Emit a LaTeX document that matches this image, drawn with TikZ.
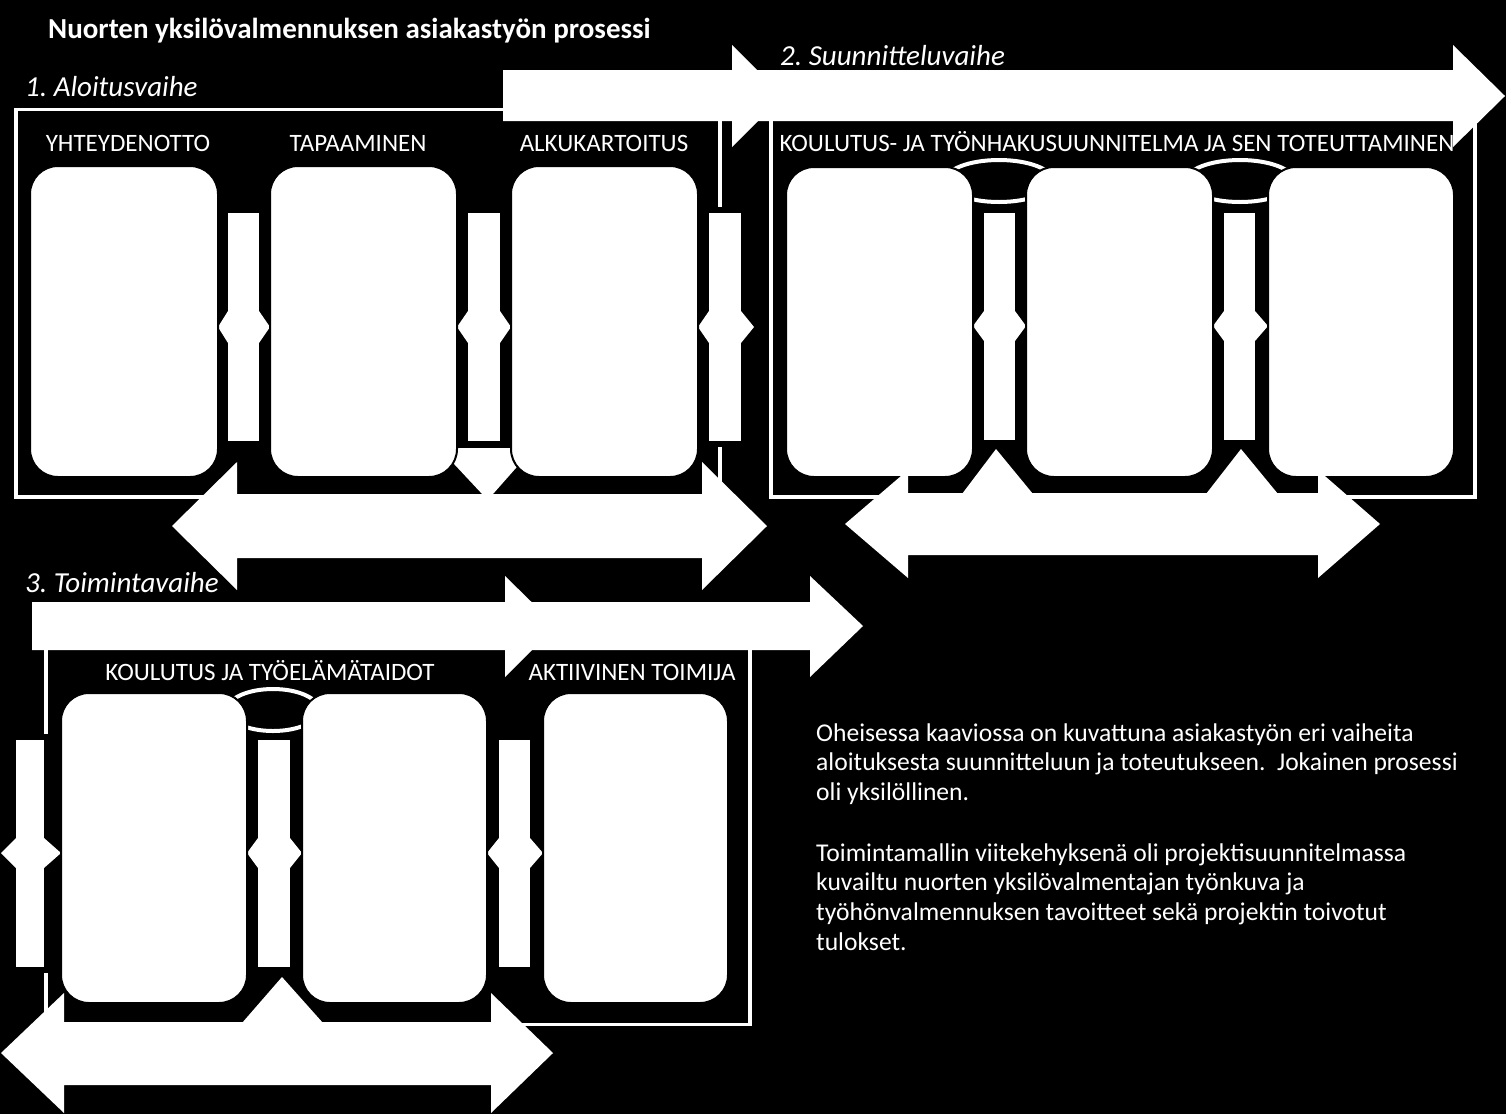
\documentclass[tikz,border=0pt]{standalone}
\usepackage{fontspec}
\setmainfont{Carlito}
\begin{document}
\frenchspacing
\begin{tikzpicture}[x=1pt,y=-1pt,
  frame/.style={draw=white, line width=3.5pt},
  wshape/.style={fill=white, draw=none},
  bar/.style={fill=white, draw=black, line width=6pt},
  ring/.style={draw=white, fill=black, line width=4pt},
  box/.style={fill=white, draw=black, line width=2pt, rounded corners=28pt, inner sep=0pt, outer sep=0pt},
  lbl/.style={text=white, inner sep=0pt, anchor=base, font=\fontsize{25}{28}\selectfont},
  phase/.style={text=white, inner sep=0pt, anchor=base west, font=\fontsize{29}{32}\selectfont\itshape},
  para/.style={text=white, inner sep=0pt, anchor=base west, font=\fontsize{25.6}{30}\selectfont}]
\useasboundingbox (0,0) rectangle (1506,1114);
\fill[black] (0,0) rectangle (1506,1114);

% ---------- title ----------
\node[text=white, inner sep=0pt, anchor=base west, font=\fontsize{29}{32}\selectfont\bfseries] (title) at (48,38) {Nuorten yksilövalmennuksen asiakastyön prosessi};

% ================= GROUP 1 =================
\draw[frame] (16,109.5) rectangle (720,497);
% down V behind middle connector
\fill[wshape] (426,434) -- (546,434) -- (487.7,500) -- cycle;
\fill[black] (457,420) rectangle (512,448);
% connector bars
\path[bar] (225,210) rectangle (262,444);
\path[bar] (465,210) rectangle (503,444);
\path[bar] (706,210) rectangle (744,444);
\fill[wshape] (218,327) -- (228,311) -- (259,311) -- (270,327) -- (259,343) -- (228,343) -- cycle;
\fill[wshape] (457,327) -- (468,311) -- (500,311) -- (511,327) -- (500,343) -- (468,343) -- cycle;
\fill[wshape] (698,327) -- (709,311) -- (741,311) -- (754,327) -- (741,343) -- (709,343) -- cycle;
% boxes
\node[box, minimum width=188pt, minimum height=311pt] (g1a) at (124,321.5) {};
\node[box, minimum width=187pt, minimum height=311pt] (g1b) at (363.5,321.5) {};
\node[box, minimum width=187pt, minimum height=311pt] (g1c) at (604.5,321.5) {};
% bottom double arrow
\fill[wshape] (172,526) -- (237,462) -- (237,494) -- (702,494) -- (702,462) -- (767,526) -- (702,590) -- (702,558) -- (237,558) -- (237,590) -- cycle;
% labels
\node[phase] (p1) at (25,96) {1. Aloitusvaihe};
\node[lbl] (l1a) at (128,151) {YHTEYDENOTTO};
\node[lbl] (l1b) at (358,151) {TAPAAMINEN};
\node[lbl] (l1c) at (604,151) {ALKUKARTOITUS};

% ================= GROUP 2 =================
\draw[frame] (771,109.5) rectangle (1475,497);
\fill[wshape] (733,70) -- (1453,70) -- (1453,45) -- (1505,96) -- (1453,147) -- (1453,121) -- (733,121) -- cycle;
\fill[wshape] (503,70) -- (732,70) -- (732,45) -- (783,96) -- (732,147) -- (732,121) -- (503,121) -- cycle;
\path[bar] (981,210) rectangle (1018,443);
\path[bar] (1221,210) rectangle (1258,443);
\fill[wshape] (973,326) -- (984,311) -- (1015,311) -- (1026,326) -- (1015,341) -- (984,341) -- cycle;
\fill[wshape] (1213,326) -- (1224,311) -- (1255,311) -- (1268,326) -- (1255,341) -- (1224,341) -- cycle;
\path[ring] (999,181) ellipse [x radius=54pt, y radius=21pt];
\path[ring] (1240,181) ellipse [x radius=54pt, y radius=21pt];
\node[box, minimum width=187pt, minimum height=310pt] (g2a) at (879.5,322) {};
\node[box, minimum width=187pt, minimum height=310pt] (g2b) at (1119.5,322) {};
\node[box, minimum width=186pt, minimum height=310pt] (g2c) at (1361,322) {};
\fill[wshape] (845,524) -- (908,470) -- (908,493) -- (1318,493) -- (1318,470) -- (1380,524) -- (1318,578) -- (1318,555) -- (908,555) -- (908,578) -- cycle;
\fill[wshape] (962,494) -- (996,449) -- (1033,494) -- cycle;
\fill[wshape] (1206,494) -- (1241,449) -- (1278,494) -- cycle;
\node[phase] (p2) at (780,65) {2. Suunnitteluvaihe};
\node[lbl] (l2) at (1117,151) {KOULUTUS- JA TYÖNHAKUSUUNNITELMA JA SEN TOTEUTTAMINEN};

% ================= GROUP 3 =================
\draw[frame] (46,630) rectangle (750,1024.5);
\fill[wshape] (505,602) -- (810,602) -- (810,576) -- (863,626) -- (810,677) -- (810,650) -- (505,650) -- cycle;
\fill[wshape] (32,602) -- (505,602) -- (505,576) -- (556,626) -- (505,677) -- (505,650) -- (32,650) -- cycle;
\path[bar] (13,737) rectangle (47,970);
\path[bar] (255,737) rectangle (293,970);
\path[bar] (496,737) rectangle (533,970);
\fill[wshape] (1,853) -- (16,838) -- (44,838) -- (61,853) -- (44,868) -- (16,868) -- cycle;
\fill[wshape] (247,853) -- (258,838) -- (290,838) -- (302,853) -- (290,868) -- (258,868) -- cycle;
\fill[wshape] (487,853) -- (499,838) -- (530,838) -- (543,853) -- (530,868) -- (499,868) -- cycle;
\path[ring] (273,710) ellipse [x radius=46pt, y radius=21pt];
\node[box, minimum width=186pt, minimum height=310pt] (g3a) at (154,848) {};
\node[box, minimum width=185pt, minimum height=310pt] (g3b) at (394.5,848) {};
\node[box, minimum width=185pt, minimum height=310pt] (g3c) at (635.5,848) {};
\fill[wshape] (1,1053) -- (64,993) -- (64,1022) -- (491,1022) -- (491,993) -- (553,1053) -- (491,1113) -- (491,1085) -- (64,1085) -- (64,1113) -- cycle;
\fill[wshape] (242,1023) -- (282,977) -- (323,1023) -- cycle;
\node[phase] (p3) at (25,592) {3. Toimintavaihe};
\node[lbl] (l3a) at (270,680) {KOULUTUS JA TYÖELÄMÄTAIDOT};
\node[lbl] (l3b) at (632,680) {AKTIIVINEN TOIMIJA};

% ================= paragraph =================
\node[para] (t1) at (816,741) {Oheisessa kaaviossa on kuvattuna asiakastyön eri vaiheita};
\node[para] (t2) at (816,770) {aloituksesta suunnitteluun ja toteutukseen.\ \ Jokainen prosessi};
\node[para] (t3) at (816,800) {oli yksilöllinen.};
\node[para] (t4) at (816,861) {Toimintamallin viitekehyksenä oli projektisuunnitelmassa};
\node[para] (t5) at (816,890) {kuvailtu nuorten yksilövalmentajan työnkuva ja};
\node[para] (t6) at (816,920) {työhönvalmennuksen tavoitteet sekä projektin toivotut};
\node[para] (t7) at (816,950) {tulokset.};
\end{tikzpicture}
\end{document}
